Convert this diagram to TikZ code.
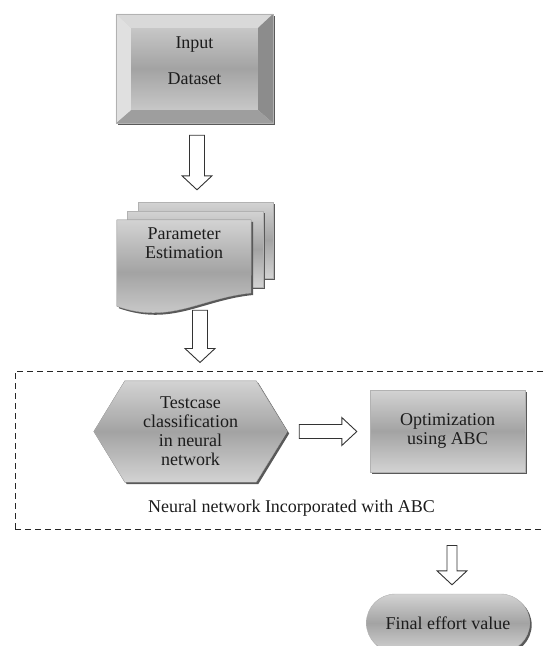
\documentclass[tikz,border=0pt]{standalone}
\usepackage{fontspec}
\setmainfont{Liberation Serif}
\usepackage{tikz}
\usepackage{xcolor}
\usetikzlibrary{shapes.misc,shadows,backgrounds,calc}
\definecolor{faceLight}{HTML}{D3D3D3}
\definecolor{faceDark}{HTML}{A3A3A3}
\definecolor{inkGray}{HTML}{1C1C1C}
\tikzstyle{block edge} = [draw=black!80, line width=0.9pt, fill=white, line join=miter]
\tikzstyle{gray face} = [top color=faceLight, bottom color=faceLight, middle color=faceDark]
\tikzstyle{under shadow} = [drop shadow={shadow xshift=2pt, shadow yshift=-2pt, fill=black!65, opacity=1}]

\begin{document}
\begin{tikzpicture}
[x=1pt, y=-1pt, %
font=\fontsize{18}{19}\selectfont, text=inkGray, %
plainbox/.style={rectangle, inner sep=0pt, align=center}, %
grayshape/.style={gray face, under shadow, draw=black!30, line width=0.4pt}, %
blockdown/.style={block edge, to path={let \p1=(\tikztostart), \p2=(\tikztotarget) in
  (\x1-#1,\y1) -- (\x1+#1,\y1) -- (\x1+#1,\y2+14pt) -- (\x1+15pt,\y2+14pt) -- (\x1,\y2)
  -- (\x1-15pt,\y2+14pt) -- (\x1-#1,\y2+14pt) -- cycle}}, %
blockdown/.default=7.5pt, %
blockright/.style={block edge, to path={let \p1=(\tikztostart), \p2=(\tikztotarget) in
  (\x1,\y1+#1) -- (\x2-15pt,\y1+#1) -- (\x2-15pt,\y1+14pt) -- (\x2,\y1)
  -- (\x2-15pt,\y1-14pt) -- (\x2-15pt,\y1-#1) -- (\x1,\y1-#1) -- cycle}}, %
blockright/.default=7pt]

\useasboundingbox (0,0) rectangle (544,646);

%% nodes
\node[plainbox, grayshape, minimum width=157pt, minimum height=109pt,
  label={[align=center,yshift=8pt]center:{Input\\[17pt]Dataset}}] (input) at (194.5,68.5) {};
\node[plainbox, minimum width=134pt, minimum height=86pt,
  label={[align=center,yshift=19.5pt]center:{Parameter\\Estimation}}] (param) at (184,263) {};
\node[plainbox, minimum width=545pt, minimum height=158pt, draw=black!85, line width=1pt,
  dash pattern=on 6pt off 4pt] (nnabc) at (287.5,450) {};
\node[plainbox, minimum width=193pt, minimum height=101pt] (testcase) at (190.5,431.5)
  {Testcase\\classification\\in neural\\network};
\node[plainbox, grayshape, minimum width=155pt, minimum height=82pt] (opt) at (447.5,431)
  {Optimization\\using ABC};
\node (nnlabel) at (291.5,508) {Neural network Incorporated with ABC};
\node[rounded rectangle, grayshape, minimum width=170pt, minimum height=58pt] (final) at (448,623)
  {Final effort value};

%% bevel of the input box
\fill[black!15] (input.north west) -- (input.north east) -- ([shift={(-15pt,-14pt)}]input.north east)
  -- ([shift={(15pt,-14pt)}]input.north west) -- cycle;
\fill[black!45] (input.north east) -- (input.south east) -- ([shift={(-15pt,13pt)}]input.south east)
  -- ([shift={(-15pt,-14pt)}]input.north east) -- cycle;
\fill[black!38] (input.south east) -- (input.south west) -- ([shift={(15pt,13pt)}]input.south west)
  -- ([shift={(-15pt,13pt)}]input.south east) -- cycle;
\fill[black!12] (input.south west) -- (input.north west) -- ([shift={(15pt,-14pt)}]input.north west)
  -- ([shift={(15pt,13pt)}]input.south west) -- cycle;
\draw[black!30, line width=0.4pt] (input.north west) rectangle (input.south east);

%% sheets and hexagon
\begin{scope}[on background layer]
\fill[grayshape] (138,202) rectangle (273,278);
\fill[grayshape] (127,211) rectangle (263,287);
\fill[grayshape] (param.north west) -- (param.north east) -- (251,293)
  .. controls (200,298) and (170,325) .. (param.south west) -- cycle;
\fill[grayshape] (testcase.west) -- ([xshift=31pt]testcase.north west) -- ([xshift=-31pt]testcase.north east)
  -- (testcase.east) -- ([xshift=-31pt]testcase.south east) -- ([xshift=31pt]testcase.south west) -- cycle;
\end{scope}

%% block arrows
\draw[blockdown] ([xshift=2.5pt,yshift=-12pt]input.south) to ([yshift=30pt]param.north);
\draw[blockdown] ([xshift=16pt,yshift=-4pt]param.south) to ([yshift=8pt]nnabc.north);
\draw[blockright] ([xshift=12pt]testcase.east) to ([xshift=-13pt]opt.west);
\draw[blockdown=5pt] ([xshift=4pt,yshift=-16pt]final.north |- nnabc.south) to ([yshift=9pt]final.north);

\end{tikzpicture}
\end{document}
